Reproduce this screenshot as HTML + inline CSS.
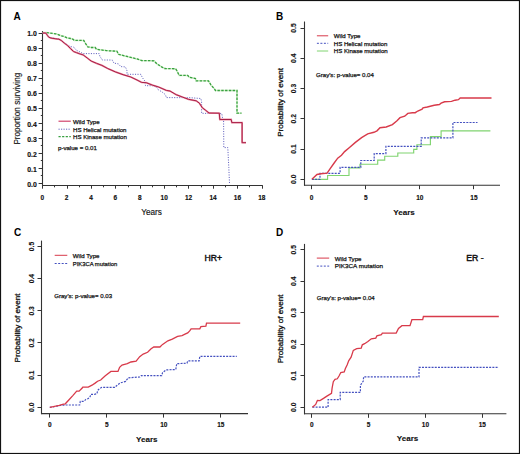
<!DOCTYPE html>
<html><head><meta charset="utf-8"><style>
html,body{margin:0;padding:0;background:#fff;}
body{width:520px;height:454px;overflow:hidden;}
svg{display:block;}
text{font-family:"Liberation Sans", sans-serif;}
</style></head><body>
<svg width="520" height="454" viewBox="0 0 520 454">

<rect x="0" y="0" width="520" height="454" fill="#fff"/>
<g >
<rect x="0" y="0" width="520" height="454" fill="#fff"/>
<text x="0" y="0" font-size="10" text-anchor="start" font-weight="bold" fill="#000" transform="translate(13.40 19.90) scale(1 1.0)" >A</text>
<line x1="42.50" y1="31.00" x2="42.50" y2="186.00" stroke="#333333" stroke-width="1.1" />
<line x1="42.00" y1="185.50" x2="262.80" y2="185.50" stroke="#333333" stroke-width="1.1" />
<line x1="38.60" y1="183.50" x2="42.50" y2="183.50" stroke="#333333" stroke-width="1" />
<line x1="40.80" y1="175.50" x2="42.50" y2="175.50" stroke="#333333" stroke-width="1" />
<text x="0" y="0" font-size="6.9" text-anchor="end" font-weight="bold" fill="#111" stroke="#111" stroke-width="0.15" transform="translate(36.80 186.70) scale(1 1.0)" >0.0</text>
<line x1="38.60" y1="168.50" x2="42.50" y2="168.50" stroke="#333333" stroke-width="1" />
<line x1="40.80" y1="160.50" x2="42.50" y2="160.50" stroke="#333333" stroke-width="1" />
<text x="0" y="0" font-size="6.9" text-anchor="end" font-weight="bold" fill="#111" stroke="#111" stroke-width="0.15" transform="translate(36.80 171.65) scale(1 1.0)" >0.1</text>
<line x1="38.60" y1="153.50" x2="42.50" y2="153.50" stroke="#333333" stroke-width="1" />
<line x1="40.80" y1="145.50" x2="42.50" y2="145.50" stroke="#333333" stroke-width="1" />
<text x="0" y="0" font-size="6.9" text-anchor="end" font-weight="bold" fill="#111" stroke="#111" stroke-width="0.15" transform="translate(36.80 156.60) scale(1 1.0)" >0.2</text>
<line x1="38.60" y1="138.50" x2="42.50" y2="138.50" stroke="#333333" stroke-width="1" />
<line x1="40.80" y1="130.50" x2="42.50" y2="130.50" stroke="#333333" stroke-width="1" />
<text x="0" y="0" font-size="6.9" text-anchor="end" font-weight="bold" fill="#111" stroke="#111" stroke-width="0.15" transform="translate(36.80 141.55) scale(1 1.0)" >0.3</text>
<line x1="38.60" y1="123.50" x2="42.50" y2="123.50" stroke="#333333" stroke-width="1" />
<line x1="40.80" y1="115.50" x2="42.50" y2="115.50" stroke="#333333" stroke-width="1" />
<text x="0" y="0" font-size="6.9" text-anchor="end" font-weight="bold" fill="#111" stroke="#111" stroke-width="0.15" transform="translate(36.80 126.50) scale(1 1.0)" >0.4</text>
<line x1="38.60" y1="108.50" x2="42.50" y2="108.50" stroke="#333333" stroke-width="1" />
<line x1="40.80" y1="100.50" x2="42.50" y2="100.50" stroke="#333333" stroke-width="1" />
<text x="0" y="0" font-size="6.9" text-anchor="end" font-weight="bold" fill="#111" stroke="#111" stroke-width="0.15" transform="translate(36.80 111.45) scale(1 1.0)" >0.5</text>
<line x1="38.60" y1="93.50" x2="42.50" y2="93.50" stroke="#333333" stroke-width="1" />
<line x1="40.80" y1="85.50" x2="42.50" y2="85.50" stroke="#333333" stroke-width="1" />
<text x="0" y="0" font-size="6.9" text-anchor="end" font-weight="bold" fill="#111" stroke="#111" stroke-width="0.15" transform="translate(36.80 96.40) scale(1 1.0)" >0.6</text>
<line x1="38.60" y1="78.50" x2="42.50" y2="78.50" stroke="#333333" stroke-width="1" />
<line x1="40.80" y1="70.50" x2="42.50" y2="70.50" stroke="#333333" stroke-width="1" />
<text x="0" y="0" font-size="6.9" text-anchor="end" font-weight="bold" fill="#111" stroke="#111" stroke-width="0.15" transform="translate(36.80 81.35) scale(1 1.0)" >0.7</text>
<line x1="38.60" y1="63.50" x2="42.50" y2="63.50" stroke="#333333" stroke-width="1" />
<line x1="40.80" y1="55.50" x2="42.50" y2="55.50" stroke="#333333" stroke-width="1" />
<text x="0" y="0" font-size="6.9" text-anchor="end" font-weight="bold" fill="#111" stroke="#111" stroke-width="0.15" transform="translate(36.80 66.30) scale(1 1.0)" >0.8</text>
<line x1="38.60" y1="48.50" x2="42.50" y2="48.50" stroke="#333333" stroke-width="1" />
<line x1="40.80" y1="40.50" x2="42.50" y2="40.50" stroke="#333333" stroke-width="1" />
<text x="0" y="0" font-size="6.9" text-anchor="end" font-weight="bold" fill="#111" stroke="#111" stroke-width="0.15" transform="translate(36.80 51.25) scale(1 1.0)" >0.9</text>
<line x1="38.60" y1="33.50" x2="42.50" y2="33.50" stroke="#333333" stroke-width="1" />
<text x="0" y="0" font-size="6.9" text-anchor="end" font-weight="bold" fill="#111" stroke="#111" stroke-width="0.15" transform="translate(36.80 36.20) scale(1 1.0)" >1.0</text>
<line x1="42.50" y1="185.50" x2="42.50" y2="188.70" stroke="#333333" stroke-width="1" />
<text x="0" y="0" font-size="6.5" text-anchor="middle" font-weight="bold" fill="#111" stroke="#111" stroke-width="0.15" transform="translate(42.20 200.20) scale(1 1.0)" >0</text>
<line x1="54.50" y1="185.50" x2="54.50" y2="187.30" stroke="#333333" stroke-width="1" />
<line x1="67.50" y1="185.50" x2="67.50" y2="188.70" stroke="#333333" stroke-width="1" />
<text x="0" y="0" font-size="6.5" text-anchor="middle" font-weight="bold" fill="#111" stroke="#111" stroke-width="0.15" transform="translate(66.60 200.20) scale(1 1.0)" >2</text>
<line x1="79.50" y1="185.50" x2="79.50" y2="187.30" stroke="#333333" stroke-width="1" />
<line x1="91.50" y1="185.50" x2="91.50" y2="188.70" stroke="#333333" stroke-width="1" />
<text x="0" y="0" font-size="6.5" text-anchor="middle" font-weight="bold" fill="#111" stroke="#111" stroke-width="0.15" transform="translate(91.00 200.20) scale(1 1.0)" >4</text>
<line x1="103.50" y1="185.50" x2="103.50" y2="187.30" stroke="#333333" stroke-width="1" />
<line x1="115.50" y1="185.50" x2="115.50" y2="188.70" stroke="#333333" stroke-width="1" />
<text x="0" y="0" font-size="6.5" text-anchor="middle" font-weight="bold" fill="#111" stroke="#111" stroke-width="0.15" transform="translate(115.40 200.20) scale(1 1.0)" >6</text>
<line x1="128.50" y1="185.50" x2="128.50" y2="187.30" stroke="#333333" stroke-width="1" />
<line x1="140.50" y1="185.50" x2="140.50" y2="188.70" stroke="#333333" stroke-width="1" />
<text x="0" y="0" font-size="6.5" text-anchor="middle" font-weight="bold" fill="#111" stroke="#111" stroke-width="0.15" transform="translate(139.80 200.20) scale(1 1.0)" >8</text>
<line x1="152.50" y1="185.50" x2="152.50" y2="187.30" stroke="#333333" stroke-width="1" />
<line x1="164.50" y1="185.50" x2="164.50" y2="188.70" stroke="#333333" stroke-width="1" />
<text x="0" y="0" font-size="6.5" text-anchor="middle" font-weight="bold" fill="#111" stroke="#111" stroke-width="0.15" transform="translate(164.20 200.20) scale(1 1.0)" >10</text>
<line x1="176.50" y1="185.50" x2="176.50" y2="187.30" stroke="#333333" stroke-width="1" />
<line x1="188.50" y1="185.50" x2="188.50" y2="188.70" stroke="#333333" stroke-width="1" />
<text x="0" y="0" font-size="6.5" text-anchor="middle" font-weight="bold" fill="#111" stroke="#111" stroke-width="0.15" transform="translate(188.60 200.20) scale(1 1.0)" >12</text>
<line x1="201.50" y1="185.50" x2="201.50" y2="187.30" stroke="#333333" stroke-width="1" />
<line x1="213.50" y1="185.50" x2="213.50" y2="188.70" stroke="#333333" stroke-width="1" />
<text x="0" y="0" font-size="6.5" text-anchor="middle" font-weight="bold" fill="#111" stroke="#111" stroke-width="0.15" transform="translate(213.00 200.20) scale(1 1.0)" >14</text>
<line x1="225.50" y1="185.50" x2="225.50" y2="187.30" stroke="#333333" stroke-width="1" />
<line x1="237.50" y1="185.50" x2="237.50" y2="188.70" stroke="#333333" stroke-width="1" />
<text x="0" y="0" font-size="6.5" text-anchor="middle" font-weight="bold" fill="#111" stroke="#111" stroke-width="0.15" transform="translate(237.40 200.20) scale(1 1.0)" >16</text>
<line x1="249.50" y1="185.50" x2="249.50" y2="187.30" stroke="#333333" stroke-width="1" />
<line x1="262.50" y1="185.50" x2="262.50" y2="188.70" stroke="#333333" stroke-width="1" />
<text x="0" y="0" font-size="6.5" text-anchor="middle" font-weight="bold" fill="#111" stroke="#111" stroke-width="0.15" transform="translate(261.80 200.20) scale(1 1.0)" >18</text>
<text x="0" y="0" font-size="8.2" text-anchor="middle" font-weight="normal" fill="#111" stroke="#111" stroke-width="0.15" transform="translate(151.60 215.20) scale(1 1.0)" >Years</text>
<text x="0" y="0" font-size="8.2" text-anchor="middle" font-weight="normal" fill="#111" stroke="#111" stroke-width="0.15" textLength="71.8" lengthAdjust="spacingAndGlyphs" transform="translate(20.20 108.70) rotate(-90) scale(1 1.0)" >Proportion surviving</text>
<line x1="58.50" y1="121.20" x2="70.80" y2="121.20" stroke="#d03c66" stroke-width="1.15" />
<line x1="58.50" y1="129.20" x2="70.80" y2="129.20" stroke="#6464c0" stroke-width="1.0" stroke-dasharray="1.2 1.3"/>
<line x1="58.50" y1="136.60" x2="70.80" y2="136.60" stroke="#38a040" stroke-width="1.3" stroke-dasharray="2.2 1.4"/>
<text x="0" y="0" font-size="6.1" text-anchor="start" font-weight="normal" fill="#111" stroke="#111" stroke-width="0.25" transform="translate(73.00 123.80) scale(1 1.0)" >Wild Type</text>
<text x="0" y="0" font-size="6.1" text-anchor="start" font-weight="normal" fill="#111" stroke="#111" stroke-width="0.25" transform="translate(73.00 131.60) scale(1 1.0)" >HS Helical mutation</text>
<text x="0" y="0" font-size="6.1" text-anchor="start" font-weight="normal" fill="#111" stroke="#111" stroke-width="0.25" transform="translate(73.00 139.00) scale(1 1.0)" >HS Kinase mutation</text>
<text x="0" y="0" font-size="6.1" text-anchor="start" font-weight="normal" fill="#111" stroke="#111" stroke-width="0.25" transform="translate(58.00 149.60) scale(1 1.0)" >p-value = 0.01</text>
<polyline points="42.7,32.6 46.6,32.6 49.7,33.1 52.8,33.5 55.8,33.8 58.2,34.6 61.2,35.8 64.3,36.5 66.6,37.7 70.5,38.5 72.8,39.2 74.3,40.4 83.7,40.4 85.8,43.9 87.8,46.8 91.1,47.5 95.2,47.5 96.5,49.3 100.0,49.8 106.2,50.6 117.0,51.3 118.5,54.3 124.7,55.9 130.8,57.4 137.0,58.9 141.6,60.5 153.9,60.8 157.0,63.9 161.6,66.9 164.7,68.5 175.5,68.8 176.5,70.0 179.2,75.4 187.7,75.4 189.3,77.3 195.4,78.5 196.2,80.8 208.5,80.8 210.8,84.7 214.7,89.3 215.5,90.5 237.0,90.5 237.0,113.2 241.5,113.2" fill="none" stroke="#cdeec4" stroke-width="1.5" stroke-linejoin="miter" />
<polyline points="42.7,32.6 46.6,32.6 49.7,33.1 52.8,33.5 55.8,33.8 58.2,34.6 61.2,35.8 64.3,36.5 66.6,37.7 70.5,38.5 72.8,39.2 74.3,40.4 83.7,40.4 85.8,43.9 87.8,46.8 91.1,47.5 95.2,47.5 96.5,49.3 100.0,49.8 106.2,50.6 117.0,51.3 118.5,54.3 124.7,55.9 130.8,57.4 137.0,58.9 141.6,60.5 153.9,60.8 157.0,63.9 161.6,66.9 164.7,68.5 175.5,68.8 176.5,70.0 179.2,75.4 187.7,75.4 189.3,77.3 195.4,78.5 196.2,80.8 208.5,80.8 210.8,84.7 214.7,89.3 215.5,90.5 237.0,90.5 237.0,113.2 241.5,113.2" fill="none" stroke="#38a040" stroke-width="1.3" stroke-dasharray="2.4 1.4" stroke-linejoin="miter" />
<polyline points="42.7,33.0 45.8,33.1 47.4,35.2 48.9,37.0 51.2,37.8 55.8,38.5 58.9,38.9 61.2,40.0 64.3,42.6 67.4,44.8 70.5,46.6 73.6,47.0 76.3,50.2 80.4,52.2 83.1,53.6 99.2,53.6 99.9,56.3 102.3,60.0 112.3,60.0 113.9,63.1 118.5,63.9 120.8,66.6 125.4,66.9 127.0,70.8 127.0,74.3 140.8,74.3 142.4,77.7 144.7,80.8 145.5,85.7 153.2,85.7 157.0,87.7 158.6,90.1 161.6,91.6 165.5,94.7 166.3,97.6 190.0,97.7 200.8,98.5 201.6,101.6 201.6,113.3 221.8,113.6 222.8,119.8 223.6,119.8 223.8,147.6 227.8,147.6 228.8,167.5 229.5,183.3" fill="none" stroke="#6464c0" stroke-width="1.0" stroke-dasharray="1.1 1.4" stroke-linejoin="miter" />
<polyline points="42.7,33.0 45.8,33.1 47.4,35.4 48.9,37.3 51.2,38.1 55.8,38.8 58.9,39.2 61.2,40.4 64.3,43.1 67.4,45.4 70.5,48.5 73.5,51.5 76.6,52.7 79.7,53.8 83.1,54.9 87.1,57.9 91.1,61.0 96.5,63.3 101.9,65.4 107.7,68.5 115.4,71.9 123.1,74.7 130.8,77.0 137.0,80.0 141.6,82.4 146.2,82.7 152.4,85.1 158.6,87.0 166.3,90.4 170.0,91.0 176.2,94.7 182.3,97.0 188.5,99.3 196.2,100.8 199.3,103.1 202.4,107.8 205.4,110.1 209.0,113.0 219.3,113.2 219.8,119.5 231.2,119.5 231.8,122.6 242.1,122.6 242.1,142.7 246.0,142.7" fill="none" stroke="#ec8ea2" stroke-width="1.8" stroke-linejoin="miter" />
<polyline points="42.7,33.0 45.8,33.1 47.4,35.4 48.9,37.3 51.2,38.1 55.8,38.8 58.9,39.2 61.2,40.4 64.3,43.1 67.4,45.4 70.5,48.5 73.5,51.5 76.6,52.7 79.7,53.8 83.1,54.9 87.1,57.9 91.1,61.0 96.5,63.3 101.9,65.4 107.7,68.5 115.4,71.9 123.1,74.7 130.8,77.0 137.0,80.0 141.6,82.4 146.2,82.7 152.4,85.1 158.6,87.0 166.3,90.4 170.0,91.0 176.2,94.7 182.3,97.0 188.5,99.3 196.2,100.8 199.3,103.1 202.4,107.8 205.4,110.1 209.0,113.0 219.3,113.2 219.8,119.5 231.2,119.5 231.8,122.6 242.1,122.6 242.1,142.7 246.0,142.7" fill="none" stroke="#a82048" stroke-width="1.0" stroke-linejoin="miter" />
<text x="0" y="0" font-size="10" text-anchor="start" font-weight="bold" fill="#000" transform="translate(276.00 19.90) scale(1 1.0)" >B</text>
<line x1="304.50" y1="21.50" x2="304.50" y2="185.70" stroke="#333333" stroke-width="1.1" />
<line x1="304.00" y1="185.20" x2="500.00" y2="185.20" stroke="#333333" stroke-width="1.1" />
<line x1="300.50" y1="179.50" x2="304.50" y2="179.50" stroke="#333333" stroke-width="1" />
<text x="0" y="0" font-size="6.7" text-anchor="middle" font-weight="bold" fill="#111" stroke="#111" stroke-width="0.15" transform="translate(296.30 179.30) rotate(-90) scale(1 1.0)" >0.0</text>
<line x1="300.50" y1="149.50" x2="304.50" y2="149.50" stroke="#333333" stroke-width="1" />
<text x="0" y="0" font-size="6.7" text-anchor="middle" font-weight="bold" fill="#111" stroke="#111" stroke-width="0.15" transform="translate(296.30 149.05) rotate(-90) scale(1 1.0)" >0.1</text>
<line x1="300.50" y1="118.50" x2="304.50" y2="118.50" stroke="#333333" stroke-width="1" />
<text x="0" y="0" font-size="6.7" text-anchor="middle" font-weight="bold" fill="#111" stroke="#111" stroke-width="0.15" transform="translate(296.30 118.80) rotate(-90) scale(1 1.0)" >0.2</text>
<line x1="300.50" y1="88.50" x2="304.50" y2="88.50" stroke="#333333" stroke-width="1" />
<text x="0" y="0" font-size="6.7" text-anchor="middle" font-weight="bold" fill="#111" stroke="#111" stroke-width="0.15" transform="translate(296.30 88.55) rotate(-90) scale(1 1.0)" >0.3</text>
<line x1="300.50" y1="58.50" x2="304.50" y2="58.50" stroke="#333333" stroke-width="1" />
<text x="0" y="0" font-size="6.7" text-anchor="middle" font-weight="bold" fill="#111" stroke="#111" stroke-width="0.15" transform="translate(296.30 58.30) rotate(-90) scale(1 1.0)" >0.4</text>
<line x1="300.50" y1="28.50" x2="304.50" y2="28.50" stroke="#333333" stroke-width="1" />
<text x="0" y="0" font-size="6.7" text-anchor="middle" font-weight="bold" fill="#111" stroke="#111" stroke-width="0.15" transform="translate(296.30 28.05) rotate(-90) scale(1 1.0)" >0.5</text>
<line x1="311.50" y1="185.20" x2="311.50" y2="189.20" stroke="#333333" stroke-width="1" />
<text x="0" y="0" font-size="6.5" text-anchor="middle" font-weight="bold" fill="#111" stroke="#111" stroke-width="0.15" transform="translate(311.60 200.00) scale(1 1.0)" >0</text>
<line x1="365.50" y1="185.20" x2="365.50" y2="189.20" stroke="#333333" stroke-width="1" />
<text x="0" y="0" font-size="6.5" text-anchor="middle" font-weight="bold" fill="#111" stroke="#111" stroke-width="0.15" transform="translate(365.70 200.00) scale(1 1.0)" >5</text>
<line x1="419.50" y1="185.20" x2="419.50" y2="189.20" stroke="#333333" stroke-width="1" />
<text x="0" y="0" font-size="6.5" text-anchor="middle" font-weight="bold" fill="#111" stroke="#111" stroke-width="0.15" transform="translate(419.80 200.00) scale(1 1.0)" >10</text>
<line x1="473.50" y1="185.20" x2="473.50" y2="189.20" stroke="#333333" stroke-width="1" />
<text x="0" y="0" font-size="6.5" text-anchor="middle" font-weight="bold" fill="#111" stroke="#111" stroke-width="0.15" transform="translate(473.90 200.00) scale(1 1.0)" >15</text>
<text x="0" y="0" font-size="8.1" text-anchor="middle" font-weight="bold" fill="#111" stroke="#111" stroke-width="0.1" transform="translate(404.00 215.20) scale(1 1.0)" >Years</text>
<text x="0" y="0" font-size="8.1" text-anchor="middle" font-weight="normal" fill="#111" stroke="#111" stroke-width="0.3" transform="translate(282.60 102.40) rotate(-90) scale(1 1.0)" >Probability of event</text>
<line x1="316.90" y1="35.80" x2="328.20" y2="35.80" stroke="#d83a4a" stroke-width="1" />
<line x1="316.90" y1="43.30" x2="328.20" y2="43.30" stroke="#4450c0" stroke-width="1" stroke-dasharray="2 1.5"/>
<line x1="316.90" y1="51.00" x2="328.20" y2="51.00" stroke="#80d470" stroke-width="1" />
<text x="0" y="0" font-size="6.1" text-anchor="start" font-weight="normal" fill="#111" stroke="#111" stroke-width="0.25" transform="translate(333.80 38.30) scale(1 1.0)" >Wild Type</text>
<text x="0" y="0" font-size="6.1" text-anchor="start" font-weight="normal" fill="#111" stroke="#111" stroke-width="0.25" transform="translate(333.80 45.70) scale(1 1.0)" >HS Helical mutation</text>
<text x="0" y="0" font-size="6.1" text-anchor="start" font-weight="normal" fill="#111" stroke="#111" stroke-width="0.25" transform="translate(333.80 53.40) scale(1 1.0)" >HS Kinase mutation</text>
<text x="0" y="0" font-size="6.1" text-anchor="start" font-weight="normal" fill="#111" stroke="#111" stroke-width="0.25" transform="translate(316.00 76.60) scale(1 1.0)" >Gray's: p-value= 0.04</text>
<polyline points="311.9,179.3 327.6,179.3 327.6,175.5 349.0,175.5 349.0,167.8 360.0,167.8 360.0,164.2 377.7,164.2 377.7,160.1 384.7,160.1 384.7,156.2 397.8,156.2 397.8,153.0 413.7,153.0 413.7,149.4 416.9,149.4 416.9,144.7 430.4,144.7 430.4,136.6 441.1,136.6 441.1,130.8 490.4,130.8" fill="none" stroke="#80d470" stroke-width="1.15" stroke-linejoin="miter" />
<polyline points="311.9,179.3 320.0,179.3 320.0,173.3 340.1,173.3 340.1,167.3 360.8,167.3 360.8,160.5 374.2,160.5 374.2,153.6 385.9,153.6 385.9,146.3 421.2,146.3 421.2,137.8 452.9,137.8 452.9,122.5 477.5,122.5" fill="none" stroke="#4450c0" stroke-width="1.2" stroke-dasharray="2 1.2" stroke-linejoin="miter" />
<polyline points="311.9,179.3 317.0,174.5 320.9,173.8 327.1,173.1 330.0,168.8 333.8,163.5 337.7,158.2 341.5,155.3 344.6,151.6 349.2,147.7 355.4,142.4 361.6,137.7 367.7,133.9 373.9,132.3 377.0,130.8 380.0,127.7 386.2,127.0 392.4,124.6 397.0,120.8 400.0,117.7 404.7,116.2 407.8,113.4 412.4,112.8 415.2,112.7 417.8,111.0 422.1,109.2 423.0,107.8 427.3,107.0 434.2,105.2 439.4,104.5 441.1,103.2 444.6,101.8 451.5,101.4 455.0,100.2 458.4,99.7 460.2,98.0 491.5,98.0" fill="none" stroke="#d83a4a" stroke-width="1.4" stroke-linejoin="miter" />
<text x="0" y="0" font-size="10" text-anchor="start" font-weight="bold" fill="#000" transform="translate(14.00 235.70) scale(1 1.0)" >C</text>
<line x1="41.50" y1="240.60" x2="41.50" y2="414.10" stroke="#333333" stroke-width="1.1" />
<line x1="41.00" y1="413.60" x2="248.00" y2="413.60" stroke="#333333" stroke-width="1.1" />
<line x1="37.50" y1="407.50" x2="41.50" y2="407.50" stroke="#333333" stroke-width="1" />
<text x="0" y="0" font-size="6.7" text-anchor="middle" font-weight="bold" fill="#111" stroke="#111" stroke-width="0.15" transform="translate(33.80 407.30) rotate(-90) scale(1 1.0)" >0.0</text>
<line x1="37.50" y1="375.50" x2="41.50" y2="375.50" stroke="#333333" stroke-width="1" />
<text x="0" y="0" font-size="6.7" text-anchor="middle" font-weight="bold" fill="#111" stroke="#111" stroke-width="0.15" transform="translate(33.80 375.14) rotate(-90) scale(1 1.0)" >0.1</text>
<line x1="37.50" y1="342.50" x2="41.50" y2="342.50" stroke="#333333" stroke-width="1" />
<text x="0" y="0" font-size="6.7" text-anchor="middle" font-weight="bold" fill="#111" stroke="#111" stroke-width="0.15" transform="translate(33.80 342.98) rotate(-90) scale(1 1.0)" >0.2</text>
<line x1="37.50" y1="310.50" x2="41.50" y2="310.50" stroke="#333333" stroke-width="1" />
<text x="0" y="0" font-size="6.7" text-anchor="middle" font-weight="bold" fill="#111" stroke="#111" stroke-width="0.15" transform="translate(33.80 310.82) rotate(-90) scale(1 1.0)" >0.3</text>
<line x1="37.50" y1="278.50" x2="41.50" y2="278.50" stroke="#333333" stroke-width="1" />
<text x="0" y="0" font-size="6.7" text-anchor="middle" font-weight="bold" fill="#111" stroke="#111" stroke-width="0.15" transform="translate(33.80 278.66) rotate(-90) scale(1 1.0)" >0.4</text>
<line x1="37.50" y1="246.50" x2="41.50" y2="246.50" stroke="#333333" stroke-width="1" />
<text x="0" y="0" font-size="6.7" text-anchor="middle" font-weight="bold" fill="#111" stroke="#111" stroke-width="0.15" transform="translate(33.80 246.50) rotate(-90) scale(1 1.0)" >0.5</text>
<line x1="49.50" y1="413.60" x2="49.50" y2="417.60" stroke="#333333" stroke-width="1" />
<text x="0" y="0" font-size="6.5" text-anchor="middle" font-weight="bold" fill="#111" stroke="#111" stroke-width="0.15" transform="translate(49.70 427.40) scale(1 1.0)" >0</text>
<line x1="106.50" y1="413.60" x2="106.50" y2="417.60" stroke="#333333" stroke-width="1" />
<text x="0" y="0" font-size="6.5" text-anchor="middle" font-weight="bold" fill="#111" stroke="#111" stroke-width="0.15" transform="translate(106.75 427.40) scale(1 1.0)" >5</text>
<line x1="163.50" y1="413.60" x2="163.50" y2="417.60" stroke="#333333" stroke-width="1" />
<text x="0" y="0" font-size="6.5" text-anchor="middle" font-weight="bold" fill="#111" stroke="#111" stroke-width="0.15" transform="translate(163.80 427.40) scale(1 1.0)" >10</text>
<line x1="220.50" y1="413.60" x2="220.50" y2="417.60" stroke="#333333" stroke-width="1" />
<text x="0" y="0" font-size="6.5" text-anchor="middle" font-weight="bold" fill="#111" stroke="#111" stroke-width="0.15" transform="translate(220.85 427.40) scale(1 1.0)" >15</text>
<text x="0" y="0" font-size="8.1" text-anchor="middle" font-weight="bold" fill="#111" stroke="#111" stroke-width="0.1" transform="translate(146.80 441.60) scale(1 1.0)" >Years</text>
<text x="0" y="0" font-size="8.1" text-anchor="middle" font-weight="normal" fill="#111" stroke="#111" stroke-width="0.3" transform="translate(19.80 328.00) rotate(-90) scale(1 1.0)" >Probability of event</text>
<line x1="54.70" y1="255.30" x2="67.30" y2="255.30" stroke="#d83a4a" stroke-width="1" />
<line x1="54.70" y1="263.50" x2="67.30" y2="263.50" stroke="#4450c0" stroke-width="1" stroke-dasharray="2 1.5"/>
<text x="0" y="0" font-size="6.1" text-anchor="start" font-weight="normal" fill="#111" stroke="#111" stroke-width="0.25" transform="translate(72.80 258.20) scale(1 1.0)" >Wild Type</text>
<text x="0" y="0" font-size="6.1" text-anchor="start" font-weight="normal" fill="#111" stroke="#111" stroke-width="0.25" textLength="44.4" lengthAdjust="spacingAndGlyphs" transform="translate(72.80 266.00) scale(1 1.0)" >PIK3CA mutation</text>
<text x="0" y="0" font-size="6.1" text-anchor="start" font-weight="normal" fill="#111" stroke="#111" stroke-width="0.25" transform="translate(54.20 298.00) scale(1 1.0)" >Gray's: p-value= 0.03</text>
<text x="0" y="0" font-size="9.4" text-anchor="start" font-weight="normal" fill="#111" stroke="#111" stroke-width="0.45" textLength="17.6" lengthAdjust="spacingAndGlyphs" transform="translate(204.40 260.70) scale(1 1.0)" >HR+</text>
<polyline points="49.8,407.3 55.0,406.5 60.0,405.5 65.0,405.0 79.7,405.0 80.3,401.3 84.0,401.3 85.9,399.4 88.3,398.5 90.2,396.5 90.8,394.3 94.5,394.3 97.0,393.6 97.6,390.5 99.5,388.6 101.9,387.3 114.8,387.3 117.2,385.2 120.0,383.0 125.6,381.4 128.2,377.8 139.7,377.0 141.4,375.6 161.7,375.6 162.6,372.6 166.1,369.9 175.8,369.5 176.7,363.7 187.0,363.2 187.7,360.9 199.1,360.9 199.8,356.4 236.8,356.4" fill="none" stroke="#4450c0" stroke-width="1.2" stroke-dasharray="2 1.2" stroke-linejoin="miter" />
<polyline points="49.8,407.3 54.5,406.3 59.3,405.4 62.5,404.3 65.3,403.8 68.8,400.0 72.8,395.6 76.7,391.1 79.1,391.1 82.2,388.0 82.8,387.1 88.3,387.1 92.0,385.2 95.1,383.1 97.6,381.2 100.7,380.0 105.3,375.7 110.9,371.4 118.0,371.4 119.6,367.3 122.0,365.0 127.3,363.7 130.9,362.0 136.1,361.1 139.7,356.7 143.2,354.1 147.6,352.3 151.1,348.8 153.8,347.0 159.9,347.0 162.6,344.4 167.9,340.8 172.3,339.1 177.6,336.4 182.0,335.6 185.0,334.2 187.7,332.9 189.7,330.9 191.1,328.8 199.8,328.8 200.9,326.6 205.9,326.2 206.5,323.2 240.2,323.2" fill="none" stroke="#d83a4a" stroke-width="1.3" stroke-linejoin="miter" />
<text x="0" y="0" font-size="10" text-anchor="start" font-weight="bold" fill="#000" transform="translate(276.00 235.60) scale(1 1.0)" >D</text>
<line x1="304.50" y1="243.90" x2="304.50" y2="414.30" stroke="#333333" stroke-width="1.1" />
<line x1="304.00" y1="413.80" x2="506.40" y2="413.80" stroke="#333333" stroke-width="1.1" />
<line x1="300.50" y1="407.50" x2="304.50" y2="407.50" stroke="#333333" stroke-width="1" />
<text x="0" y="0" font-size="6.7" text-anchor="middle" font-weight="bold" fill="#111" stroke="#111" stroke-width="0.15" transform="translate(296.30 407.30) rotate(-90) scale(1 1.0)" >0.0</text>
<line x1="300.50" y1="375.50" x2="304.50" y2="375.50" stroke="#333333" stroke-width="1" />
<text x="0" y="0" font-size="6.7" text-anchor="middle" font-weight="bold" fill="#111" stroke="#111" stroke-width="0.15" transform="translate(296.30 375.80) rotate(-90) scale(1 1.0)" >0.1</text>
<line x1="300.50" y1="344.50" x2="304.50" y2="344.50" stroke="#333333" stroke-width="1" />
<text x="0" y="0" font-size="6.7" text-anchor="middle" font-weight="bold" fill="#111" stroke="#111" stroke-width="0.15" transform="translate(296.30 344.30) rotate(-90) scale(1 1.0)" >0.2</text>
<line x1="300.50" y1="312.50" x2="304.50" y2="312.50" stroke="#333333" stroke-width="1" />
<text x="0" y="0" font-size="6.7" text-anchor="middle" font-weight="bold" fill="#111" stroke="#111" stroke-width="0.15" transform="translate(296.30 312.80) rotate(-90) scale(1 1.0)" >0.3</text>
<line x1="300.50" y1="281.50" x2="304.50" y2="281.50" stroke="#333333" stroke-width="1" />
<text x="0" y="0" font-size="6.7" text-anchor="middle" font-weight="bold" fill="#111" stroke="#111" stroke-width="0.15" transform="translate(296.30 281.30) rotate(-90) scale(1 1.0)" >0.4</text>
<line x1="300.50" y1="249.50" x2="304.50" y2="249.50" stroke="#333333" stroke-width="1" />
<text x="0" y="0" font-size="6.7" text-anchor="middle" font-weight="bold" fill="#111" stroke="#111" stroke-width="0.15" transform="translate(296.30 249.80) rotate(-90) scale(1 1.0)" >0.5</text>
<line x1="311.50" y1="413.80" x2="311.50" y2="417.80" stroke="#333333" stroke-width="1" />
<text x="0" y="0" font-size="6.5" text-anchor="middle" font-weight="bold" fill="#111" stroke="#111" stroke-width="0.15" transform="translate(311.70 427.40) scale(1 1.0)" >0</text>
<line x1="368.50" y1="413.80" x2="368.50" y2="417.80" stroke="#333333" stroke-width="1" />
<text x="0" y="0" font-size="6.5" text-anchor="middle" font-weight="bold" fill="#111" stroke="#111" stroke-width="0.15" transform="translate(368.55 427.40) scale(1 1.0)" >5</text>
<line x1="425.50" y1="413.80" x2="425.50" y2="417.80" stroke="#333333" stroke-width="1" />
<text x="0" y="0" font-size="6.5" text-anchor="middle" font-weight="bold" fill="#111" stroke="#111" stroke-width="0.15" transform="translate(425.40 427.40) scale(1 1.0)" >10</text>
<line x1="482.50" y1="413.80" x2="482.50" y2="417.80" stroke="#333333" stroke-width="1" />
<text x="0" y="0" font-size="6.5" text-anchor="middle" font-weight="bold" fill="#111" stroke="#111" stroke-width="0.15" transform="translate(482.25 427.40) scale(1 1.0)" >15</text>
<text x="0" y="0" font-size="8.1" text-anchor="middle" font-weight="bold" fill="#111" stroke="#111" stroke-width="0.1" transform="translate(407.50 441.40) scale(1 1.0)" >Years</text>
<text x="0" y="0" font-size="8.1" text-anchor="middle" font-weight="normal" fill="#111" stroke="#111" stroke-width="0.3" transform="translate(283.40 328.90) rotate(-90) scale(1 1.0)" >Probability of event</text>
<line x1="316.80" y1="258.10" x2="329.20" y2="258.10" stroke="#d83a4a" stroke-width="1" />
<line x1="316.80" y1="266.10" x2="329.20" y2="266.10" stroke="#4450c0" stroke-width="1" stroke-dasharray="2 1.5"/>
<text x="0" y="0" font-size="6.1" text-anchor="start" font-weight="normal" fill="#111" stroke="#111" stroke-width="0.25" transform="translate(334.80 260.60) scale(1 1.0)" >Wild Type</text>
<text x="0" y="0" font-size="6.1" text-anchor="start" font-weight="normal" fill="#111" stroke="#111" stroke-width="0.25" textLength="48.2" lengthAdjust="spacingAndGlyphs" transform="translate(334.80 268.30) scale(1 1.0)" >PIK3CA mutation</text>
<text x="0" y="0" font-size="6.1" text-anchor="start" font-weight="normal" fill="#111" stroke="#111" stroke-width="0.25" transform="translate(316.80 300.20) scale(1 1.0)" >Gray's: p-value= 0.04</text>
<text x="0" y="0" font-size="9.2" text-anchor="start" font-weight="normal" fill="#111" stroke="#111" stroke-width="0.45" textLength="17.4" lengthAdjust="spacingAndGlyphs" transform="translate(466.20 261.30) scale(1 1.0)" >ER -</text>
<polyline points="312.4,407.2 328.1,407.2 328.1,399.6 340.2,399.6 340.2,392.3 360.4,392.3 360.4,385.2 363.3,381.1 363.6,376.9 419.0,376.9 419.0,367.3 498.8,367.3" fill="none" stroke="#4450c0" stroke-width="1.2" stroke-dasharray="2 1.2" stroke-linejoin="miter" />
<polyline points="312.4,407.3 315.7,404.4 317.4,400.5 320.0,400.6 323.5,398.4 326.9,396.1 331.5,393.3 332.1,388.1 333.3,381.7 335.0,379.4 337.3,378.8 339.0,376.0 340.8,372.5 344.2,371.9 345.4,368.5 347.1,365.0 348.8,360.6 351.1,357.2 353.3,350.4 356.7,348.7 361.2,348.2 362.3,344.8 364.6,343.7 367.9,341.5 371.3,338.8 375.8,338.1 376.9,335.8 381.4,334.7 382.3,333.1 396.2,333.1 398.5,328.5 401.9,325.7 410.0,325.7 411.9,319.7 422.7,319.7 423.4,316.5 498.8,316.5" fill="none" stroke="#d83a4a" stroke-width="1.3" stroke-linejoin="miter" />
</g>
<rect x="0.5" y="0.5" width="519" height="453" fill="none" stroke="#111" stroke-width="1.2"/>
</svg>
</body></html>
